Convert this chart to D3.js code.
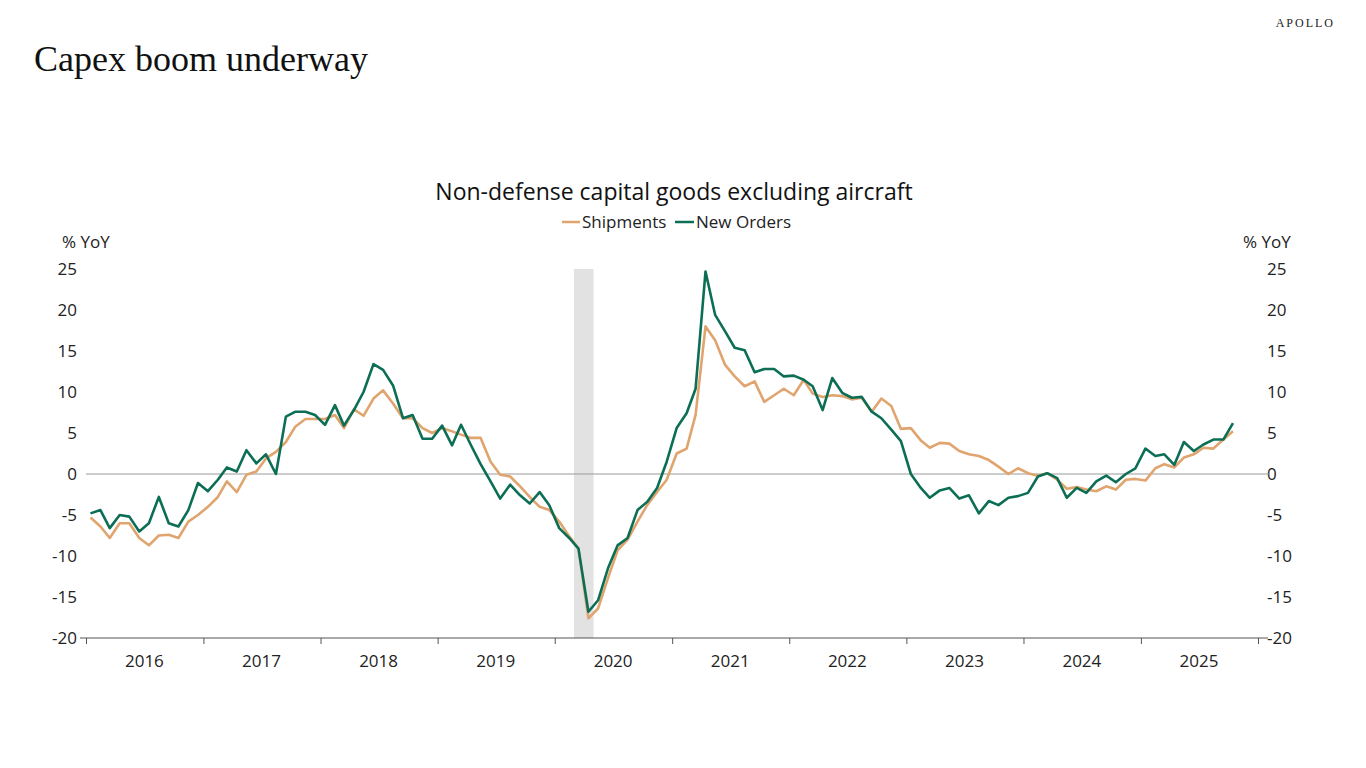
<!DOCTYPE html>
<html>
<head>
<meta charset="utf-8">
<script src="https://cdn.jsdelivr.net/npm/d3@7"></script>
<style>
  body { margin: 0; background: #fff; }
  svg { display: block; }
</style>
</head>
<body>
<svg id="chart" width="1366" height="768"></svg>
<script>
// monthly, Jan 2016 .. Oct 2025
var startYear = 2016, startMonth = 0;
var shipments = [
  -5.3,-6.4,-7.8,-6.0,-6.0,-7.8,-8.7,-7.5,-7.4,-7.8,-5.8,-5.0,
  -4.0,-2.8,-0.9,-2.2,-0.1,0.3,1.9,2.7,3.9,5.8,6.7,6.7,
  6.7,7.2,5.6,7.9,7.1,9.2,10.2,8.6,6.8,6.8,5.6,5.0,
  5.6,5.2,4.8,4.4,4.4,1.5,-0.1,-0.3,-1.5,-2.8,-4.0,-4.4,
  -5.8,-7.6,-9.1,-17.6,-16.4,-12.7,-9.3,-8.0,-5.8,-3.8,-2.2,-0.7,
  2.5,3.1,7.2,18.0,16.3,13.3,11.9,10.7,11.3,8.8,9.6,10.4,
  9.6,11.5,9.8,9.4,9.6,9.5,9.1,9.3,7.6,9.2,8.3,5.5,
  5.6,4.1,3.2,3.8,3.7,2.8,2.4,2.2,1.7,0.9,0.0,0.7,
  0.1,-0.2,0.1,-0.7,-1.8,-1.6,-1.9,-2.1,-1.5,-1.9,-0.7,-0.6,
  -0.8,0.7,1.2,0.8,2.0,2.4,3.2,3.1,4.2,5.2
];
var newOrders = [
  -4.8,-4.4,-6.6,-5.0,-5.2,-7.0,-6.0,-2.8,-6.0,-6.4,-4.4,-1.1,
  -2.1,-0.7,0.8,0.3,2.9,1.3,2.4,0.0,7.0,7.6,7.6,7.2,
  6.0,8.4,5.9,7.8,10.0,13.4,12.7,10.8,6.8,7.2,4.3,4.3,
  5.9,3.5,6.0,3.5,1.2,-0.9,-3.0,-1.3,-2.6,-3.6,-2.2,-3.8,
  -6.6,-7.8,-9.1,-16.8,-15.4,-11.5,-8.7,-7.8,-4.4,-3.4,-1.7,1.5,
  5.6,7.4,10.4,24.7,19.4,17.4,15.4,15.1,12.4,12.8,12.8,11.9,
  12.0,11.5,10.7,7.8,11.7,9.9,9.3,9.4,7.6,6.8,5.4,4.0,
  0.0,-1.7,-2.9,-2.0,-1.7,-3.0,-2.6,-4.8,-3.3,-3.8,-2.9,-2.7,
  -2.3,-0.3,0.1,-0.5,-2.9,-1.7,-2.3,-0.9,-0.2,-1.0,0.0,0.7,
  3.1,2.2,2.4,1.1,3.9,2.8,3.6,4.2,4.2,6.2
];
var yTicks = [25, 20, 15, 10, 5, 0, -5, -10, -15, -20];
var years = [2016, 2017, 2018, 2019, 2020, 2021, 2022, 2023, 2024, 2025];
var recession = [new Date(2020, 2, 1), new Date(2020, 4, 1)];

var svg = d3.select("#chart");
var font = "'Segoe UI', 'Open Sans', 'Noto Sans', sans-serif";

var x = d3.scaleTime().domain([new Date(2016, 0, 1), new Date(2026, 0, 1)]).range([86, 1258]);
var y = d3.scaleLinear().domain([-20, 25]).range([638, 269]);

function dateAt(i) { return new Date(startYear, startMonth + i, 15); }

// header
svg.append("text").attr("x", 34).attr("y", 71)
  .attr("font-family", "'Liberation Serif', 'DejaVu Serif', serif")
  .attr("font-size", 36).attr("fill", "#111").text("Capex boom underway");
svg.append("text").attr("x", 1335).attr("y", 27).attr("text-anchor", "end")
  .attr("font-family", "'Liberation Serif', serif").attr("font-size", 12)
  .attr("letter-spacing", 2).attr("fill", "#222").text("APOLLO");

svg.append("text").attr("x", 674).attr("y", 200).attr("text-anchor", "middle")
  .attr("font-family", font).attr("font-size", 23).attr("fill", "#111")
  .text("Non-defense capital goods excluding aircraft");

// legend
var legend = [{name: "Shipments", color: "#E0A46E"}, {name: "New Orders", color: "#0C6E55"}];
var lg = svg.append("g").attr("font-family", font).attr("font-size", 17).attr("fill", "#222");
lg.append("line").attr("x1", 562).attr("x2", 580).attr("y1", 222).attr("y2", 222)
  .attr("stroke", legend[0].color).attr("stroke-width", 2.5);
lg.append("text").attr("x", 582).attr("y", 228).text(legend[0].name);
lg.append("line").attr("x1", 675).attr("x2", 694).attr("y1", 222).attr("y2", 222)
  .attr("stroke", legend[1].color).attr("stroke-width", 2.5);
lg.append("text").attr("x", 696).attr("y", 228).text(legend[1].name);

// recession band
svg.append("rect").attr("x", x(recession[0])).attr("y", y(25))
  .attr("width", x(recession[1]) - x(recession[0])).attr("height", y(-20) - y(25))
  .attr("fill", "#e2e2e2");

// y labels, both sides
var yl = svg.append("g").attr("font-family", font).attr("font-size", 17).attr("fill", "#222");
yl.selectAll(".l").data(yTicks).join("text").attr("x", 77).attr("y", function(d) { return y(d) + 6; })
  .attr("text-anchor", "end").text(function(d) { return d; });
yl.selectAll(".r").data(yTicks).join("text").attr("x", 1267).attr("y", function(d) { return y(d) + 6; })
  .text(function(d) { return d; });
yl.append("text").attr("x", 62).attr("y", 248).text("% YoY");
yl.append("text").attr("x", 1243).attr("y", 248).text("% YoY");

// zero line
svg.append("line").attr("x1", 86).attr("x2", 1270).attr("y1", y(0)).attr("y2", y(0))
  .attr("stroke", "#9a9a9a").attr("stroke-width", 1.2);

// x axis
var xa = svg.append("g").attr("transform", "translate(0," + y(-20) + ")")
  .call(d3.axisBottom(x).ticks(d3.timeYear.every(1)).tickSize(6).tickFormat(""));
xa.select(".domain").attr("d", "M80,0H1268").attr("stroke", "#555");
xa.selectAll(".tick line").attr("stroke", "#555");
svg.append("g").attr("font-family", font).attr("font-size", 17).attr("fill", "#222")
  .selectAll("text").data(years).join("text")
  .attr("x", function(d) { return x(new Date(d, 6, 1)); }).attr("y", 667)
  .attr("text-anchor", "middle").text(function(d) { return d; });

// lines
var line = d3.line().x(function(d, i) { return x(dateAt(i)); }).y(function(d) { return y(d); });
svg.append("path").attr("d", line(shipments)).attr("fill", "none")
  .attr("stroke", legend[0].color).attr("stroke-width", 2.6).attr("stroke-linejoin", "round");
svg.append("path").attr("d", line(newOrders)).attr("fill", "none")
  .attr("stroke", legend[1].color).attr("stroke-width", 2.6).attr("stroke-linejoin", "round");
</script>
</body>
</html>
